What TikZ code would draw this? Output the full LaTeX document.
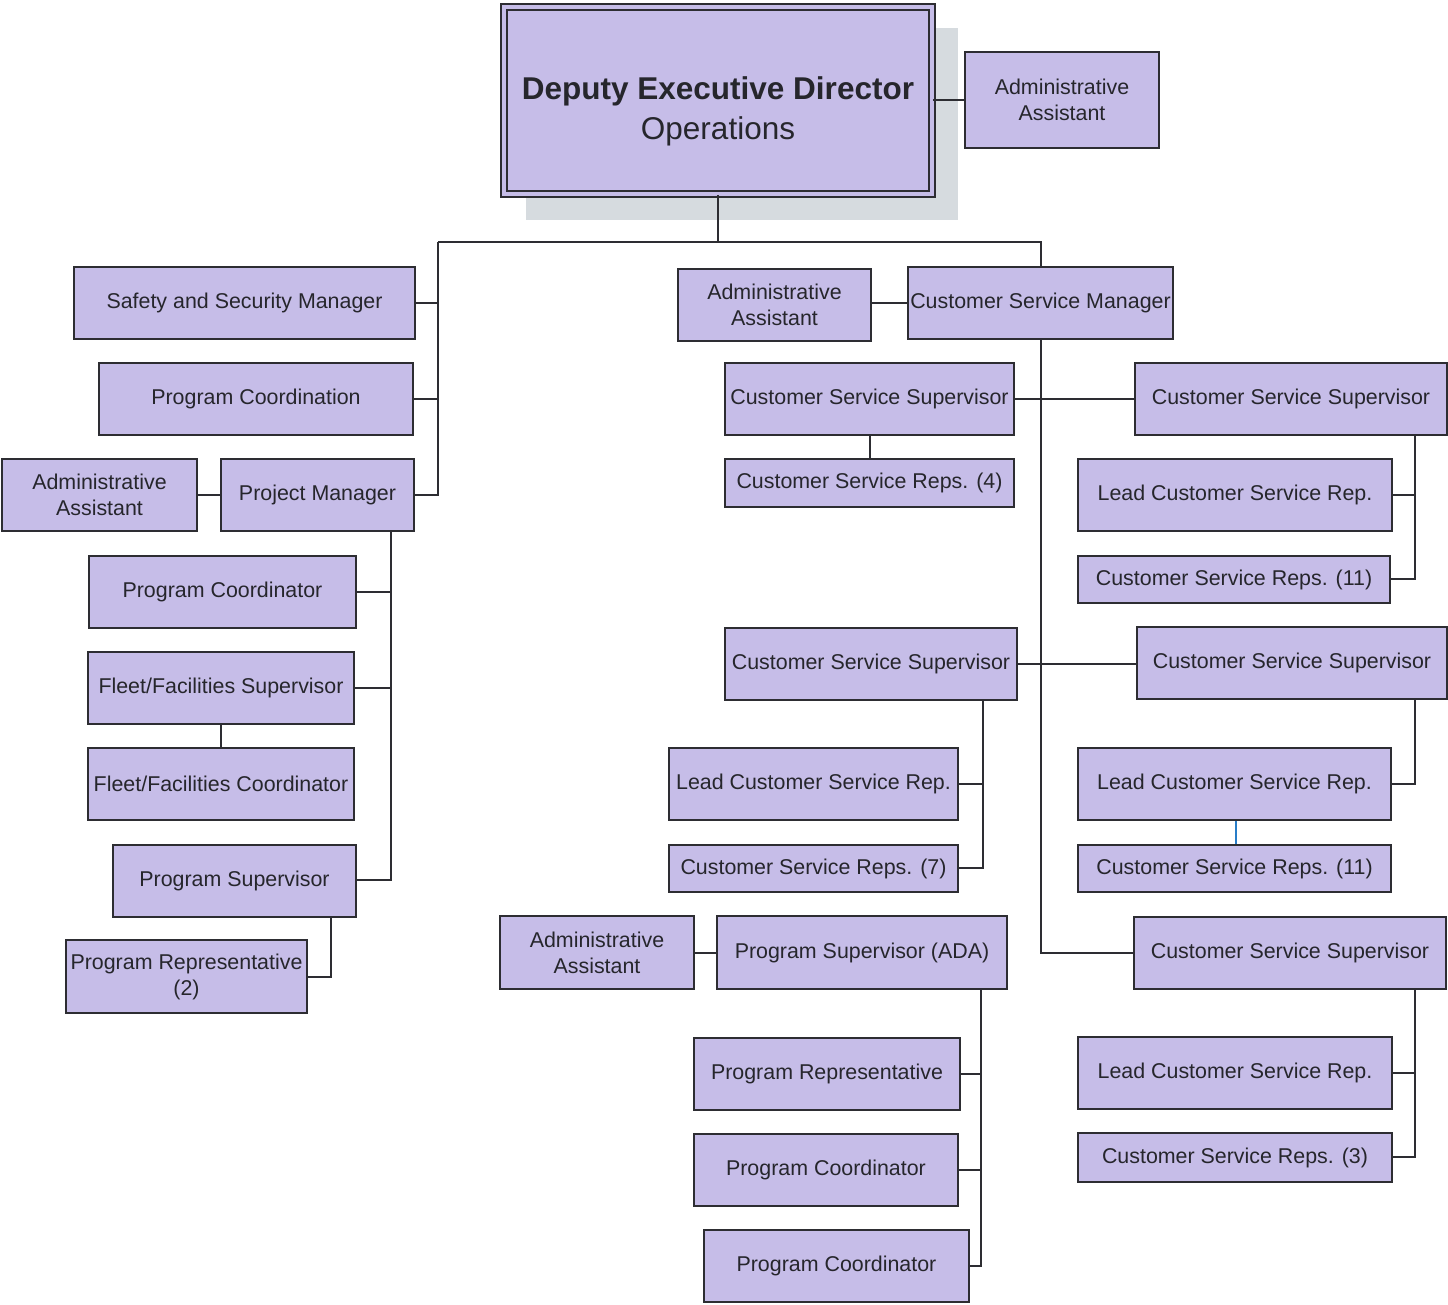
\documentclass[tikz,border=0pt]{standalone}
\usepackage{fontspec}
\setmainfont{Liberation Sans}
\definecolor{boxfill}{RGB}{198,189,232}
\definecolor{boxline}{RGB}{45,45,50}
\definecolor{shadowc}{RGB}{214,219,223}
\definecolor{textc}{RGB}{38,38,44}
\definecolor{bluec}{RGB}{40,125,200}
\begin{document}
\begin{tikzpicture}[x=1pt,y=-1pt,
  box/.style={draw=boxline,line width=2pt,fill=boxfill,inner sep=0pt,align=center,
    text=textc,font=\fontsize{21.4}{26}\selectfont},
  conn/.style={draw=boxline,line width=2pt}]
\useasboundingbox (0,0) rectangle (1448,1305);
% shadow of top box
\fill[shadowc] (526,28) rectangle (958,220);
% top
\node[box,double=boxfill,double distance=4pt,line width=1.8pt,minimum width=428pt,minimum height=187pt] (ded) at (718,100.5) {};
\node[text=textc,align=center,inner sep=0pt,font=\fontsize{31.5}{40}\selectfont] (dedt) at (718,111) {\textbf{Deputy Executive Director}\\Operations};
\node[box,minimum width=194pt,minimum height=96pt] (aa1) at (1062,100) {Administrative\\Assistant};
% left branch
\node[box,minimum width=341pt,minimum height=72pt] (ssm) at (244.5,303) {Safety and Security Manager};
\node[box,minimum width=314pt,minimum height=72pt] (pcn) at (256,399) {Program Coordination};
\node[box,minimum width=193pt,minimum height=72pt] (pm) at (317.5,495) {Project Manager};
\node[box,minimum width=195pt,minimum height=72pt] (aa2) at (99.5,495) {Administrative\\Assistant};
\node[box,minimum width=267pt,minimum height=72pt] (pc1) at (222.5,592) {Program Coordinator};
\node[box,minimum width=266pt,minimum height=72pt] (ffs) at (221,688) {Fleet/Facilities Supervisor};
\node[box,minimum width=266pt,minimum height=72pt] (ffc) at (221,784) {Fleet/Facilities Coordinator};
\node[box,minimum width=243pt,minimum height=72pt] (ps) at (234.5,881) {Program Supervisor};
\node[box,minimum width=241pt,minimum height=73pt] (pr2) at (186.5,976.5) {Program Representative\\(2)};
% centre and right
\node[box,minimum width=193pt,minimum height=72pt] (aa3) at (774.5,305) {Administrative\\Assistant};
\node[box,minimum width=265pt,minimum height=72pt] (csm) at (1040.5,303) {Customer Service Manager};
\node[box,minimum width=289pt,minimum height=72pt] (css1) at (869.5,399) {Customer Service Supervisor};
\node[box,minimum width=312pt,minimum height=72pt] (css2) at (1291,399) {Customer Service Supervisor};
\node[box,minimum width=289pt,minimum height=48pt] (csr4) at (869.5,483) {Customer Service Reps. (4)};
\node[box,minimum width=314pt,minimum height=72pt] (lcsr1) at (1235,495) {Lead Customer Service Rep.};
\node[box,minimum width=312pt,minimum height=47pt] (csr11a) at (1234,579.5) {Customer Service Reps. (11)};
\node[box,minimum width=292pt,minimum height=72pt] (css3) at (871,664) {Customer Service Supervisor};
\node[box,minimum width=310pt,minimum height=72pt] (css4) at (1292,663) {Customer Service Supervisor};
\node[box,minimum width=289pt,minimum height=72pt] (lcsr2) at (813.5,784) {Lead Customer Service Rep.};
\node[box,minimum width=289pt,minimum height=47pt] (csr7) at (813.5,868.5) {Customer Service Reps. (7)};
\node[box,minimum width=313pt,minimum height=72pt] (lcsr3) at (1234.5,784) {Lead Customer Service Rep.};
\node[box,minimum width=313pt,minimum height=47pt] (csr11b) at (1234.5,868.5) {Customer Service Reps. (11)};
\node[box,minimum width=312pt,minimum height=72pt] (css5) at (1290,953) {Customer Service Supervisor};
\node[box,minimum width=314pt,minimum height=72pt] (lcsr4) at (1235,1073) {Lead Customer Service Rep.};
\node[box,minimum width=314pt,minimum height=49pt] (csr3) at (1235,1157.5) {Customer Service Reps. (3)};
\node[box,minimum width=194pt,minimum height=73pt] (aa4) at (597,952.5) {Administrative\\Assistant};
\node[box,minimum width=290pt,minimum height=73pt] (psada) at (862,952.5) {Program Supervisor (ADA)};
\node[box,minimum width=266pt,minimum height=72pt] (pr) at (827,1074) {Program Representative};
\node[box,minimum width=264pt,minimum height=72pt] (pc2) at (826,1170) {Program Coordinator};
\node[box,minimum width=265pt,minimum height=72pt] (pc3) at (836.5,1266) {Program Coordinator};
% junction coordinates
\coordinate (jl) at (438,242);
\coordinate (jr) at (1041,242);
\coordinate (jpm) at (391,880);
\coordinate (jpr) at (331,977);
\coordinate (jcs) at (1041,953);
\coordinate (jc2) at (1415,579);
\coordinate (jc3) at (983,868);
\coordinate (jc4) at (1415,784);
\coordinate (jc5) at (1415,1157);
\coordinate (jada) at (981,1266);
\coordinate (jblue) at (1236,0);
% connectors
\draw[conn] (ded.east) -- (aa1.west |- ded.east);
\draw[conn] (ded.south) -- (ded.south |- jl);
\draw[conn] (jl) -- (jr) -- (csm.north -| jr);
\draw[conn] (jl) |- (pm.east);
\draw[conn] (ssm.east) -- (ssm.east -| jl);
\draw[conn] (pcn.east) -- (pcn.east -| jl);
\draw[conn] (aa2.east) -- (pm.west);
\draw[conn] (pm.south -| jpm) -- (jpm) -- (ps.east |- jpm);
\draw[conn] (pc1.east) -- (pc1.east -| jpm);
\draw[conn] (ffs.east) -- (ffs.east -| jpm);
\draw[conn] (ffs.south) -- (ffc.north);
\draw[conn] (ps.south -| jpr) -- (jpr) -- (pr2.east |- jpr);
\draw[conn] (aa3.east |- csm.west) -- (csm.west);
\draw[conn] (csm.south -| jcs) -- (jcs) -- (css5.west |- jcs);
\draw[conn] (css1.east) -- (css2.west);
\draw[conn] (css1.south) -- (csr4.north -| css1.south);
\draw[conn] (css2.south -| jc2) -- (jc2) -- (csr11a.east |- jc2);
\draw[conn] (lcsr1.east) -- (lcsr1.east -| jc2);
\draw[conn] (css3.east) -- (css4.west |- css3.east);
\draw[conn] (css3.south -| jc3) -- (jc3) -- (csr7.east |- jc3);
\draw[conn] (lcsr2.east) -- (lcsr2.east -| jc3);
\draw[conn] (css4.south -| jc4) -- (jc4) -- (lcsr3.east |- jc4);
\draw[draw=bluec,line width=1.6pt] (lcsr3.south -| jblue) -- (csr11b.north -| jblue);
\draw[conn] (css5.south -| jc5) -- (jc5) -- (csr3.east |- jc5);
\draw[conn] (lcsr4.east) -- (lcsr4.east -| jc5);
\draw[conn] (aa4.east) -- (psada.west);
\draw[conn] (psada.south -| jada) -- (jada) -- (pc3.east |- jada);
\draw[conn] (pr.east) -- (pr.east -| jada);
\draw[conn] (pc2.east) -- (pc2.east -| jada);
\end{tikzpicture}
\end{document}
